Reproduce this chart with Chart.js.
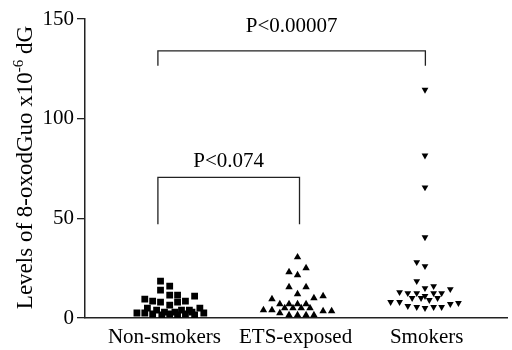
<!DOCTYPE html>
<html><head><meta charset="utf-8">
<script src="https://cdn.jsdelivr.net/npm/chart.js@4.4.1/dist/chart.umd.min.js"></script>
<style>html,body{margin:0;padding:0;background:#fff}#wrap{width:512px;height:350px}</style>
</head><body><div id="wrap"><canvas id="c"></canvas></div>
<script>
// ---- data ----
const categories = ['Non-smokers', 'ETS-exposed', 'Smokers'];
const yTickValues = [0, 50, 100, 150];

const nonSmokersJitter = [-0.03, 0.04, -0.03, 0.04, 0.10, 0.23, -0.15, -0.09, -0.03, 0.10, 0.16, 0.04, -0.13, 0.27, 0.13, 0.19, -0.21, -0.15, -0.06, -0.09, 0.00, 0.04, 0.08, 0.10, 0.16, 0.21, 0.23, 0.30, -0.02];
const nonSmokersValues = [18.5, 16, 14, 11.5, 11.5, 11, 9.5, 8.5, 8, 8, 8.5, 6.5, 5, 5, 4, 4, 2.5, 2.5, 4, 2, 3, 2, 3, 1.5, 2, 3, 1.5, 2.5, 1.5];

const etsJitter = [0.015, 0.08, -0.05, 0.015, -0.05, 0.08, 0.015, 0.21, 0.14, -0.18, -0.12, -0.05, 0.015, 0.08, -0.083, -0.02, 0.043, 0.11, -0.245, -0.18, -0.12, 0.21, 0.275, -0.05, 0.015, 0.08, 0.14];
const etsValues = [30.5, 25, 23, 21.5, 15.5, 15.5, 12, 11, 10, 9.5, 7, 7, 7, 7, 5, 5, 5, 5, 4, 4, 2.5, 3.5, 3.5, 1.5, 1.5, 1.5, 1.5];

const smokersJitter = [-0.013, -0.013, -0.013, -0.013, -0.076, -0.013, -0.076, -0.013, 0.053, -0.207, -0.144, -0.076, 0.053, 0.114, 0.18, -0.111, -0.043, 0.02, 0.083, -0.013, -0.275, -0.207, -0.144, -0.076, -0.013, 0.053, 0.114, 0.18, 0.242];
const smokersValues = [114.5, 81.5, 65.5, 40.5, 28, 26, 18.5, 15, 16, 13, 12.5, 12.5, 12.5, 12.5, 14.5, 10, 10, 9, 10, 11, 8, 8, 6, 5.5, 5, 5.5, 5.5, 7, 7.5];

// significance brackets (x in category units, y in data units)
const bracketFrom = [0.95, 0.95];
const bracketTo = [2.99, 2.03];
const bracketLevel = [134, 70.5];
const bracketDrop = [126.5, 47];
const bracketLabelLevel = [146, 78.5];
const bracketLabels = ['P<0.00007', 'P<0.074'];

const yTitleMain = 'Levels of 8-oxodGuo x10';
const yTitleSup = '-6';
const yTitleEnd = ' dG';

// ---- build ----
function pts(catIdx, jitter, values) {
  return values.map((v, i) => ({ x: catIdx + 1 + jitter[i], y: v }));
}
const SERIF = '"Liberation Serif", "Times New Roman", serif';

const overlay = {
  id: 'overlay',
  afterDraw(chart) {
    const ctx = chart.ctx, xs = chart.scales.x, ys = chart.scales.y, a = chart.chartArea;
    ctx.save();
    ctx.strokeStyle = '#222';
    ctx.lineWidth = 1.3;
    ctx.fillStyle = '#000';
    ctx.font = '21px ' + SERIF;
    ctx.textAlign = 'center';
    ctx.textBaseline = 'middle';
    for (let i = 0; i < bracketLabels.length; i++) {
      const x1 = xs.getPixelForValue(bracketFrom[i]);
      const x2 = xs.getPixelForValue(bracketTo[i]);
      const yl = ys.getPixelForValue(bracketLevel[i]);
      const yd = ys.getPixelForValue(bracketDrop[i]);
      ctx.beginPath();
      ctx.moveTo(x1, yd); ctx.lineTo(x1, yl); ctx.lineTo(x2, yl); ctx.lineTo(x2, yd);
      ctx.stroke();
      ctx.fillText(bracketLabels[i], (x1 + x2) / 2, ys.getPixelForValue(bracketLabelLevel[i]));
    }
    // y title with superscript
    ctx.translate(26, (a.top + a.bottom) / 2 - 1);
    ctx.rotate(-Math.PI / 2);
    ctx.textAlign = 'left';
    const fMain = '23px ' + SERIF, fSup = '15px ' + SERIF;
    ctx.font = fMain; const w1 = ctx.measureText(yTitleMain).width; const w3 = ctx.measureText(yTitleEnd).width;
    ctx.font = fSup; const w2 = ctx.measureText(yTitleSup).width;
    let x = -(w1 + w2 + w3) / 2;
    ctx.font = fMain; ctx.fillText(yTitleMain, x, 0); x += w1;
    ctx.font = fSup; ctx.fillText(yTitleSup, x, -7); x += w2;
    ctx.font = fMain; ctx.fillText(yTitleEnd, x, 0);
    ctx.restore();
  }
};

new Chart(document.getElementById('c'), {
  type: 'scatter',
  data: {
    datasets: [
      { label: categories[0], data: pts(0, nonSmokersJitter, nonSmokersValues), pointStyle: 'rect', pointRadius: 4.8, backgroundColor: '#000', borderColor: '#000', borderWidth: 0 },
      { label: categories[1], data: pts(1, etsJitter, etsValues), pointStyle: 'triangle', pointRadius: 4.3, backgroundColor: '#000', borderColor: '#000', borderWidth: 0 },
      { label: categories[2], data: pts(2, smokersJitter, smokersValues), pointStyle: 'triangle', rotation: 180, pointRadius: 3.9, backgroundColor: '#000', borderColor: '#000', borderWidth: 0 }
    ]
  },
  options: {
    responsive: true,
    maintainAspectRatio: false,
    animation: false,
    layout: { padding: { top: 19, right: 0, left: 0, bottom: 0 } },
    plugins: { legend: { display: false }, tooltip: { enabled: false } },
    scales: {
      x: {
        type: 'linear', min: 0.394, max: 3.614,
        afterFit: s => { s.height = 32; },
        afterBuildTicks: s => { s.ticks = categories.map((c, i) => ({ value: i + 1 })); },
        ticks: { autoSkip: false, maxRotation: 0, padding: 1, color: '#000', font: { family: SERIF, size: 21, lineHeight: 1.0 }, callback: v => categories[Math.round(v) - 1] },
        grid: { display: false },
        border: { display: true, color: '#222', width: 1.5 }
      },
      y: {
        min: 0, max: 150,
        afterFit: s => { s.width = 85; },
        afterBuildTicks: s => { s.ticks = yTickValues.map(v => ({ value: v })); },
        ticks: { padding: 3, color: '#000', font: { family: SERIF, size: 21 } },
        grid: { drawOnChartArea: false, tickLength: 8, color: '#222', lineWidth: 1.3 },
        border: { display: true, color: '#222', width: 1.5 }
      }
    }
  },
  plugins: [overlay]
});
</script>
</body></html>
